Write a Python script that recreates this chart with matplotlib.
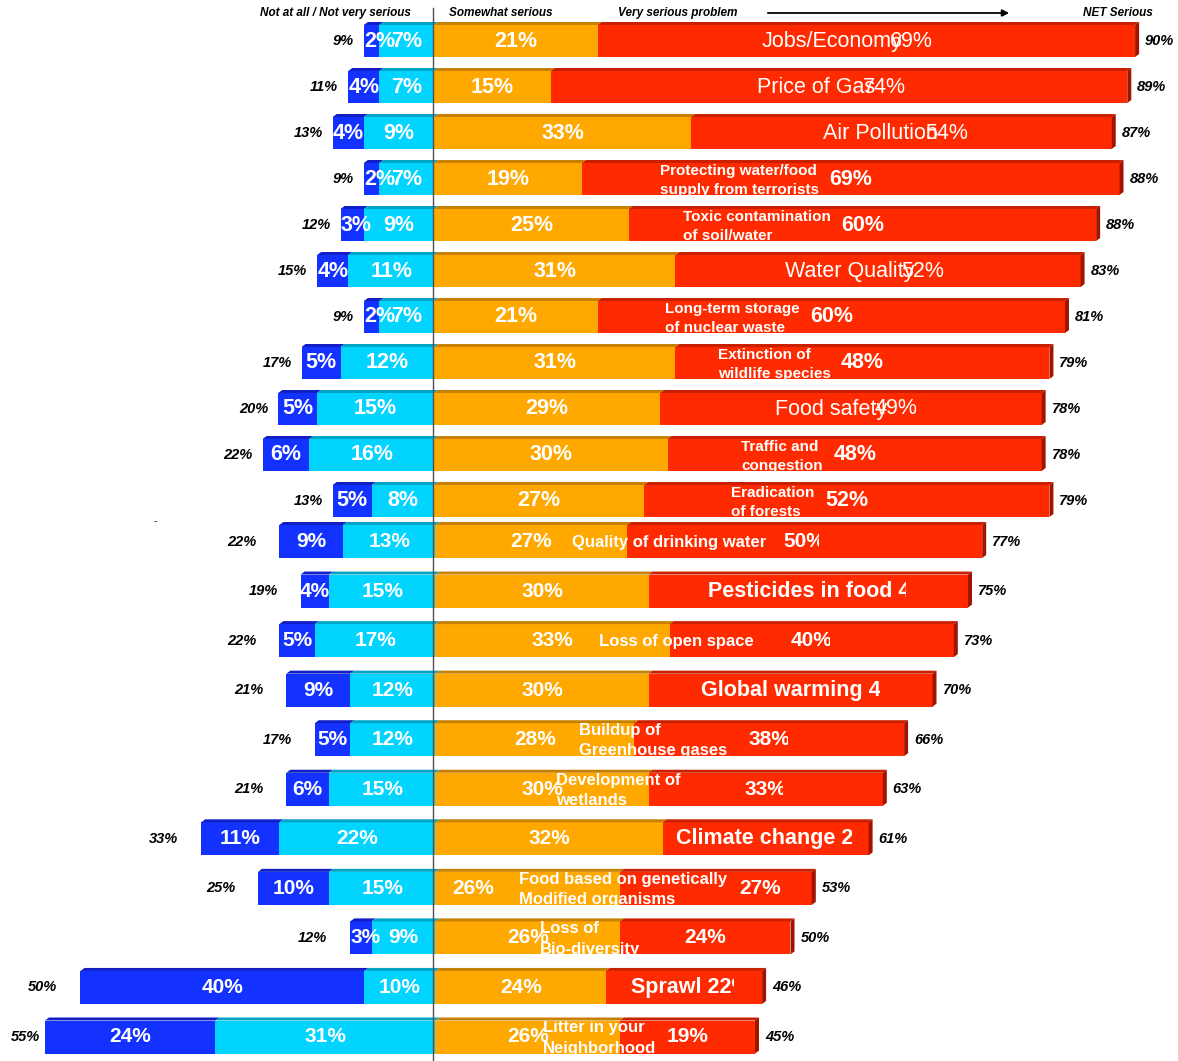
import numpy as np
import matplotlib.pyplot as plt
from matplotlib.patches import Polygon, Rectangle
from matplotlib.lines import Line2D
from matplotlib import font_manager

# issues, top block
issues_top = ['Jobs/Economy', 'Price of Gas', 'Air Pollution',
              'Protecting water/food\nsupply from terrorists',
              'Toxic contamination\nof soil/water', 'Water Quality',
              'Long-term storage\nof nuclear waste', 'Extinction of\nwildlife species',
              'Food safety', 'Traffic and\ncongestion', 'Eradication\nof forests']
not_at_all_top = [2, 4, 4, 2, 3, 4, 2, 5, 5, 6, 5]
not_very_top = [7, 7, 9, 7, 9, 11, 7, 12, 15, 16, 8]
somewhat_top = [21, 15, 33, 19, 25, 31, 21, 31, 29, 30, 27]
very_top = [69, 74, 54, 69, 60, 52, 60, 48, 49, 48, 52]
net_not_top = [9, 11, 13, 9, 12, 15, 9, 17, 20, 22, 13]
net_serious_top = [90, 89, 87, 88, 88, 83, 81, 79, 78, 78, 79]

# issues, bottom block
issues_bottom = ['Quality of drinking water', 'Pesticides in food', 'Loss of open space',
                 'Global warming', 'Buildup of\nGreenhouse gases', 'Development of\nwetlands',
                 'Climate change', 'Food based on genetically\nModified organisms',
                 'Loss of\nBio-diversity', 'Sprawl', 'Litter in your\nNeighborhood']
not_at_all_bottom = [9, 4, 5, 9, 5, 6, 11, 10, 3, 40, 24]
not_very_bottom = [13, 15, 17, 12, 12, 15, 22, 15, 9, 10, 31]
somewhat_bottom = [27, 30, 33, 30, 28, 30, 32, 26, 26, 24, 26]
very_bottom = [50, 45, 40, 40, 38, 33, 29, 27, 24, 22, 19]
net_not_bottom = [22, 19, 22, 21, 17, 21, 33, 25, 12, 50, 55]
net_serious_bottom = [77, 75, 73, 70, 66, 63, 61, 53, 50, 46, 45]

# label placement for the bottom block (x in %)
name_x_bottom = [19.2, 38.4, 23.0, 37.4, 20.2, 17.0, 33.9, 11.8, 14.7, 27.5, 15.1]
inline_bottom = [False, True, False, True, False, False, True, False, False, True, False]
clip_x_bottom = [54.0, 66.3, 55.5, 62.6, 49.6, 49.0, 58.6, None, None, 42.1, None]
shift_orange_bottom = [0, 0, 0, 0, 0, 0, 0, -7.7, 0, 0, 0]
shift_red_bottom = [0, 0, 0, 0, 0, 0, 0, 6.2, 0, 0, 0]

headers = ['Not at all / Not very serious', 'Somewhat serious', 'Very serious problem', 'NET Serious']

# colours: front face, top face
c_blue, t_blue = '#1432FF', '#1020C4'
c_cyan, t_cyan = '#00D4FF', '#00A4C4'
c_orange, t_orange = '#FFA800', '#C88000'
c_red, t_red = '#FF2A00', '#C82000'
side_red = '#A01400'

names = {f.name for f in font_manager.fontManager.ttflist}
narrow = 'Liberation Sans Narrow' if 'Liberation Sans Narrow' in names else 'Liberation Sans'
plt.rcParams['font.family'] = ['Liberation Sans', 'DejaVu Sans']

W, H = 1178, 1061
fig = plt.figure(figsize=(W / 100, H / 100), dpi=100)


def section(y0, y1, zero, ppx, row0, step):
    ax = fig.add_axes([0, 1 - y1 / H, 1, (y1 - y0) / H])
    ax.set_xlim(-zero / ppx, (W - zero) / ppx)
    ax.set_ylim((y1 - row0) / step, (y0 - row0) / step)
    ax.axis('off')
    return ax


def draw_bars(ax, a, b, s, v, bar_h, dx, dy):
    a, b, s, v = map(np.array, (a, b, s, v))
    y = np.arange(len(a))
    groups = [
        (ax.barh(y, a, left=-(a + b), height=bar_h, color=c_blue, lw=0), t_blue),
        (ax.barh(y, b, left=-b, height=bar_h, color=c_cyan, lw=0), t_cyan),
        (ax.barh(y, s, left=0, height=bar_h, color=c_orange, lw=0), t_orange),
        (ax.barh(y, v, left=s, height=bar_h, color=c_red, lw=0), t_red),
    ]
    # fake 3d: top strip on every segment, dark side on the right end
    for cont, tc in groups:
        for r in cont:
            x0, w = r.get_x(), r.get_width()
            top = r.get_y()
            ax.add_patch(Polygon([(x0, top), (x0 + dx, top - dy), (x0 + w + dx, top - dy), (x0 + w, top)],
                                 closed=True, color=tc, lw=0))
    for r in groups[-1][0]:
        x1 = r.get_x() + r.get_width()
        top, bot = r.get_y(), r.get_y() + r.get_height()
        ax.add_patch(Polygon([(x1, top), (x1 + dx, top - dy), (x1 + dx, bot - dy), (x1, bot)],
                             closed=True, color=side_red, lw=0))
    return groups


def seg_labels(ax, groups, font, size, shift=None):
    for k, (cont, _) in enumerate(groups[:3]):
        for i, r in enumerate(cont):
            w = r.get_width()
            yc = r.get_y() + r.get_height() / 2
            if k == 0 and w < 4:
                ax.text(r.get_x(), yc, f'{w:.0f}%', ha='left', va='center', color='white',
                        fontsize=size, fontweight='bold', family=font)
            else:
                dx = shift[i] if (shift is not None and k == 2) else 0
                ax.text(r.get_x() + w / 2 + dx, yc, f'{w:.0f}%', ha='center', va='center', color='white',
                        fontsize=size, fontweight='bold', family=font)


def net_labels(ax, groups, net_lo, net_hi, gap_lo, gap_hi, min_right):
    ends = [r.get_x() + r.get_width() for r in groups[-1][0]]
    for i, (lo, hi) in enumerate(zip(net_lo, net_hi)):
        xr = max(-lo - gap_lo, min_right)
        ax.text(xr, i, f'{lo}%', ha='right', va='center', fontsize=10.5,
                fontweight='bold', style='italic', color='black')
        ax.text(ends[i] + gap_hi, i, f'{hi}%', ha='left', va='center', fontsize=10.5,
                fontweight='bold', style='italic', color='black')


def clipped(ax, t, y, bar_h, xmax):
    x0 = ax.get_xlim()[0]
    rect = Rectangle((x0, y - bar_h / 2), xmax - x0, bar_h, transform=ax.transData)
    t.set_clip_on(True)
    t.set_clip_path(rect)


# top block: 7.79 px per %, rows 46 px apart
ppx_t = 7.79
ax1 = section(0, 520, 434, ppx_t, 41, 46)
bh_t = 32 / 46
g1 = draw_bars(ax1, not_at_all_top, not_very_top, somewhat_top, very_top, bh_t, 4 / ppx_t, 3 / 46)
seg_labels(ax1, g1, narrow, 15.5)
net_labels(ax1, g1, net_not_top, net_serious_top, 10 / ppx_t, 10 / ppx_t, -50)

for i, (name, s, v) in enumerate(zip(issues_top, somewhat_top, very_top)):
    xe = ax1.get_xlim()[1]
    if '\n' in name:
        xv = s + v / 2
        ax1.text(xv, i, f'{v}%', ha='center', va='center', color='white',
                 fontsize=15.5, fontweight='bold', family=narrow)
        t = ax1.text(xv - 32 / ppx_t, i + 1.5 / 46, name, ha='right', va='center', multialignment='left',
                     color='white', fontsize=11, fontweight='bold', linespacing=1.5)
    else:
        xv = s + v / 2 + 45 / ppx_t
        ax1.text(xv, i, f'{v}%', ha='center', va='center', color='white',
                 fontsize=15.5, family=narrow)
        t = ax1.text(xv - 9 / ppx_t, i, name, ha='right', va='center', color='white',
                     fontsize=15.5, family=narrow)
    clipped(ax1, t, i, bh_t, xe)

# bottom block: 7.1 px per %, rows 49.55 px apart
ppx_b = 7.1
ax2 = section(520, 1061, 435.5, ppx_b, 541.5, 49.55)
bh_b = 33 / 49.55
g2 = draw_bars(ax2, not_at_all_bottom, not_very_bottom, somewhat_bottom, very_bottom, bh_b,
               4 / ppx_b, 3 / 49.55)
seg_labels(ax2, g2, 'Liberation Sans', 15, shift_orange_bottom)
net_labels(ax2, g2, net_not_bottom, net_serious_bottom, 23 / ppx_b, 10 / ppx_b,
           ax2.get_xlim()[0] + 40 / ppx_b)

for i, (name, s, v) in enumerate(zip(issues_bottom, somewhat_bottom, very_bottom)):
    xmax = clip_x_bottom[i] if clip_x_bottom[i] is not None else ax2.get_xlim()[1]
    if inline_bottom[i]:
        t = ax2.text(name_x_bottom[i], i, f'{name} {v}%', ha='left', va='center', color='white',
                     fontsize=15.5, fontweight='bold')
        clipped(ax2, t, i, bh_b, xmax)
    else:
        t = ax2.text(name_x_bottom[i], i + 1 / 49.55, name, ha='left', va='center', color='white',
                     fontsize=12, fontweight='bold', linespacing=1.45)
        clipped(ax2, t, i, bh_b, ax2.get_xlim()[1])
        t = ax2.text(s + v / 2 + shift_red_bottom[i], i, f'{v}%', ha='center', va='center',
                     color='white', fontsize=15, fontweight='bold')
        clipped(ax2, t, i, bh_b, xmax)

# column headers and arrow
hy = (13 - 41) / 46
hk = dict(va='center', fontsize=8.5, fontweight='bold', style='italic', color='black')
ax1.text(-12.6, hy, headers[0], ha='center', **hk)
ax1.text(1.9, hy, headers[1], ha='left', **hk)
ax1.text(23.6, hy, headers[2], ha='left', **hk)
ax1.text(83.3, hy, headers[3], ha='left', **hk)
ax1.annotate('', xy=(74.2, hy), xytext=(42.5, hy),
             arrowprops=dict(arrowstyle='-|>', color='black', lw=1.3, mutation_scale=10))

# zero line through both blocks
fig.add_artist(Line2D([433 / W, 433 / W], [1 - 8 / H, 0], transform=fig.transFigure,
                      color='#505050', lw=1))
fig.text(155 / W, 1 - 521 / H, '-', fontsize=7, ha='center', va='center')

fig.savefig('out.png', dpi=100)
